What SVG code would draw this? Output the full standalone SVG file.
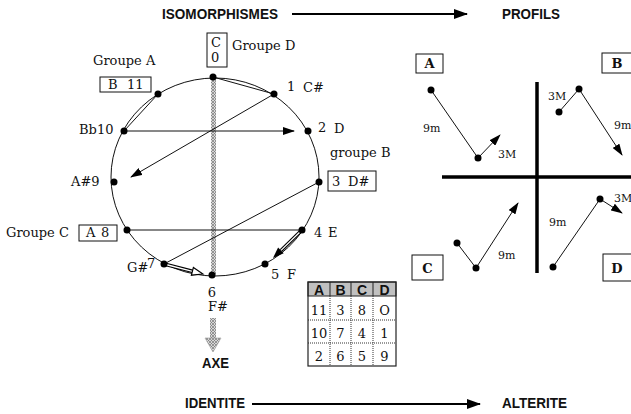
<svg xmlns="http://www.w3.org/2000/svg" width="631" height="414" viewBox="0 0 631 414">
<style>
.t{font-family:"DejaVu Serif","Liberation Serif",serif;font-size:13px;fill:#111}
.s{font-family:"DejaVu Serif","Liberation Serif",serif;font-size:11px;fill:#111}
.b{font-family:"Liberation Sans",Arial,sans-serif;font-weight:bold;font-size:15px;fill:#111}
.bl{font-family:"DejaVu Serif","Liberation Serif",serif;font-weight:bold;font-size:13px;fill:#111}
.th{font-family:"Liberation Sans",Arial,sans-serif;font-weight:bold;font-size:14px;fill:#111}
.ln{stroke:#111;stroke-width:1;fill:none}
.dot{fill:#000}
.box{fill:#fff;stroke:#111;stroke-width:1}
.thick{stroke:#000;stroke-width:3.5}
</style>
<defs>
<marker id="ah" markerWidth="12" markerHeight="8" refX="11" refY="4" orient="auto" markerUnits="userSpaceOnUse"><path d="M0,0 L12,4 L0,8 z" fill="#000"/></marker>
<marker id="ahb" markerWidth="14" markerHeight="10" refX="13" refY="5" orient="auto" markerUnits="userSpaceOnUse"><path d="M0,0 L14,5 L0,10 z" fill="#000"/></marker>
<pattern id="hatch" width="3" height="3" patternUnits="userSpaceOnUse"><rect width="3" height="3" fill="#d8d8d8"/><path d="M0,0 L3,3 M3,0 L0,3" stroke="#777" stroke-width="0.7"/></pattern>
</defs>
<rect width="631" height="414" fill="#fff"/>

<!-- titles -->
<g id="titles">
<text class="b" x="162" y="19" textLength="116" lengthAdjust="spacingAndGlyphs">ISOMORPHISMES</text>
<text class="b" x="502" y="19" textLength="58" lengthAdjust="spacingAndGlyphs">PROFILS</text>
<text class="b" x="185" y="408" textLength="60" lengthAdjust="spacingAndGlyphs">IDENTITE</text>
<text class="b" x="502" y="408" textLength="65" lengthAdjust="spacingAndGlyphs">ALTERITE</text>
</g>

<!-- circle -->
<ellipse cx="215" cy="177" rx="104" ry="99" class="ln" stroke-width="1.2"/>

<!-- axis -->
<g id="axe">
<rect x="211" y="78" width="5" height="197" fill="url(#hatch)"/>
<rect x="210" y="318" width="6" height="26" fill="url(#hatch)"/>
<path d="M205,338 L221,338 L213,352 z" fill="url(#hatch)" stroke="#999" stroke-width="0.6"/>
<text class="th" x="202" y="368" textLength="27" lengthAdjust="spacingAndGlyphs">AXE</text>
</g>

<g id="connectors">
<line class="ln" x1="213" y1="77" x2="274" y2="94"/>
<line class="ln" x1="158" y1="94" x2="124" y2="131"/>
<line class="ln" x1="274" y1="94" x2="131" y2="177" marker-end="url(#ah)"/>
<line class="ln" x1="124" y1="131" x2="294" y2="131" marker-end="url(#ah)"/>
<line class="ln" x1="319" y1="182" x2="164" y2="264"/>
<line class="ln" x1="127" y1="230" x2="302" y2="230"/>
<line x1="302" y1="230" x2="281" y2="250.4" stroke="#000" stroke-width="3.5"/>
<line x1="302" y1="230" x2="281" y2="250.4" stroke="#fff" stroke-width="1.3"/>
<polygon points="273,258 283.7,253.3 278.1,247.5" fill="#000"/>
<line x1="164" y1="264" x2="192.4" y2="271.3" stroke="#000" stroke-width="3.5"/>
<line x1="164" y1="264" x2="192.4" y2="271.3" stroke="#fff" stroke-width="1.3"/>
<polygon points="203,274 191.4,275.2 193.4,267.4" fill="#fff" stroke="#000" stroke-width="1.2"/>
<!-- top / bottom arrows -->
<line x1="292" y1="14" x2="467" y2="14" stroke="#000" stroke-width="2" marker-end="url(#ahb)"/>
<line x1="252" y1="404" x2="480" y2="404" stroke="#000" stroke-width="2" marker-end="url(#ahb)"/>
</g>

<g id="n0"><circle class="dot" cx="213" cy="77" r="3.5"/>
<rect class="box" x="207" y="33" width="20" height="34"/>
<text class="t" x="211" y="47">C</text><text class="t" x="211" y="62">0</text>
<text class="t" x="232" y="50">Groupe D</text></g>
<g id="n1"><circle class="dot" cx="274" cy="94" r="3.5"/><text class="t" x="287" y="91">1</text><text class="t" x="303" y="92">C#</text></g>
<g id="n2"><circle class="dot" cx="308" cy="131" r="3.5"/><text class="t" x="318" y="132">2</text><text class="t" x="334" y="133">D</text></g>
<g id="n3"><circle class="dot" cx="319" cy="182" r="3.5"/>
<text class="t" x="330" y="157">groupe B</text>
<rect class="box" x="328" y="171" width="48" height="20"/>
<text class="t" x="332" y="186">3</text><text class="t" x="348" y="186">D#</text></g>
<g id="n4"><circle class="dot" cx="302" cy="230" r="3.5"/><text class="t" x="314" y="237">4</text><text class="t" x="328" y="237">E</text></g>
<g id="n5"><circle class="dot" cx="265" cy="264" r="3.5"/><text class="t" x="271" y="279">5</text><text class="t" x="287" y="279">F</text></g>
<g id="n6"><circle class="dot" cx="212" cy="275" r="3.5"/><text class="t" x="212" y="297" text-anchor="middle">6</text><text class="t" x="218" y="311" text-anchor="middle">F#</text></g>
<g id="n7"><circle class="dot" cx="164" cy="264" r="3.5"/><text class="t" x="127" y="272">G#</text><text class="t" x="147" y="268">7</text></g>
<g id="n8"><circle class="dot" cx="127" cy="230" r="3.5"/>
<text class="t" x="6" y="237">Groupe C</text>
<rect class="box" x="79" y="225" width="38" height="16"/>
<text class="t" x="86" y="237">A</text><text class="t" x="101" y="237">8</text></g>
<g id="n9"><circle class="dot" cx="114" cy="182" r="3.5"/><text class="t" x="71" y="186">A#9</text></g>
<g id="n10"><circle class="dot" cx="124" cy="131" r="3.5"/><text class="t" x="79" y="134">Bb10</text></g>
<g id="n11"><circle class="dot" cx="158" cy="94" r="3.5"/>
<text class="t" x="93" y="65">Groupe A</text>
<rect class="box" x="100" y="77" width="51" height="15"/>
<text class="t" x="108" y="89">B</text><text class="t" x="127" y="89">11</text></g>

<!-- table -->
<g id="table">
<rect x="308" y="282" width="88" height="14" fill="#c0c0c0" stroke="#222" stroke-width="1"/>
<line x1="330" y1="282" x2="330" y2="296" stroke="#222"/>
<line x1="351" y1="282" x2="351" y2="296" stroke="#222"/>
<line x1="373" y1="282" x2="373" y2="296" stroke="#222"/>
<g stroke="#333" stroke-width="1" stroke-dasharray="1 1">
<line x1="330" y1="296" x2="330" y2="366"/>
<line x1="351" y1="296" x2="351" y2="366"/>
<line x1="373" y1="296" x2="373" y2="366"/>
<line x1="308" y1="320" x2="396" y2="320"/>
<line x1="308" y1="343" x2="396" y2="343"/>
</g>
<rect x="308" y="282" width="88" height="84" fill="none" stroke="#222" stroke-width="1.2"/>
<g class="th" text-anchor="middle" font-size="13">
<text class="th" x="319" y="295">A</text><text class="th" x="340.5" y="295">B</text><text class="th" x="362" y="295">C</text><text class="th" x="384.5" y="295">D</text>
</g>
<g text-anchor="middle">
<text class="t" x="319" y="315">11</text><text class="t" x="340.5" y="315">3</text><text class="t" x="362" y="315">8</text><text class="t" x="384.5" y="315">O</text>
<text class="t" x="319" y="338">10</text><text class="t" x="340.5" y="338">7</text><text class="t" x="362" y="338">4</text><text class="t" x="384.5" y="338">1</text>
<text class="t" x="319" y="361">2</text><text class="t" x="340.5" y="361">6</text><text class="t" x="362" y="361">5</text><text class="t" x="384.5" y="361">9</text>
</g>
</g>

<!-- profiles -->
<g id="quadrants">
<line class="thick" x1="442" y1="177" x2="631" y2="177"/>
<line class="thick" x1="537" y1="82" x2="537" y2="273"/>
</g>
<g id="profilA">
<rect class="box" x="416" y="54" width="27" height="19"/><text class="bl" x="429.5" y="68" text-anchor="middle">A</text>
<line class="ln" x1="431" y1="90" x2="478" y2="158"/>
<line class="ln" x1="478" y1="158" x2="500" y2="135" marker-end="url(#ah)"/>
<circle class="dot" cx="431" cy="90" r="3.5"/><circle class="dot" cx="478" cy="158" r="3.5"/>
<text class="s" x="423" y="132">9m</text><text class="s" x="498" y="158">3M</text>
</g>
<g id="profilB">
<rect class="box" x="602" y="53" width="30" height="20"/><text class="bl" x="617" y="68" text-anchor="middle">B</text>
<line class="ln" x1="559" y1="112" x2="579" y2="89"/>
<line class="ln" x1="579" y1="89" x2="622" y2="155" marker-end="url(#ah)"/>
<circle class="dot" cx="559" cy="112" r="3.5"/><circle class="dot" cx="579" cy="89" r="3.5"/>
<text class="s" x="548" y="100">3M</text><text class="s" x="614" y="129">9m</text>
</g>
<g id="profilC">
<rect class="box" x="412" y="255" width="31" height="25"/><text class="bl" x="427.5" y="273" text-anchor="middle">C</text>
<line class="ln" x1="457" y1="243" x2="476" y2="268"/>
<line class="ln" x1="476" y1="268" x2="518" y2="203" marker-end="url(#ah)"/>
<circle class="dot" cx="457" cy="243" r="3.5"/><circle class="dot" cx="476" cy="268" r="3.5"/>
<text class="s" x="498" y="259">9m</text>
</g>
<g id="profilD">
<rect class="box" x="603" y="254" width="30" height="27"/><text class="bl" x="617" y="273" text-anchor="middle">D</text>
<line class="ln" x1="553" y1="267" x2="600" y2="199"/>
<line class="ln" x1="600" y1="199" x2="622" y2="213" marker-end="url(#ah)"/>
<circle class="dot" cx="553" cy="267" r="3.5"/><circle class="dot" cx="600" cy="199" r="3.5"/>
<text class="s" x="549" y="226">9m</text><text class="s" x="614" y="202">3M</text>
</g>
</svg>
